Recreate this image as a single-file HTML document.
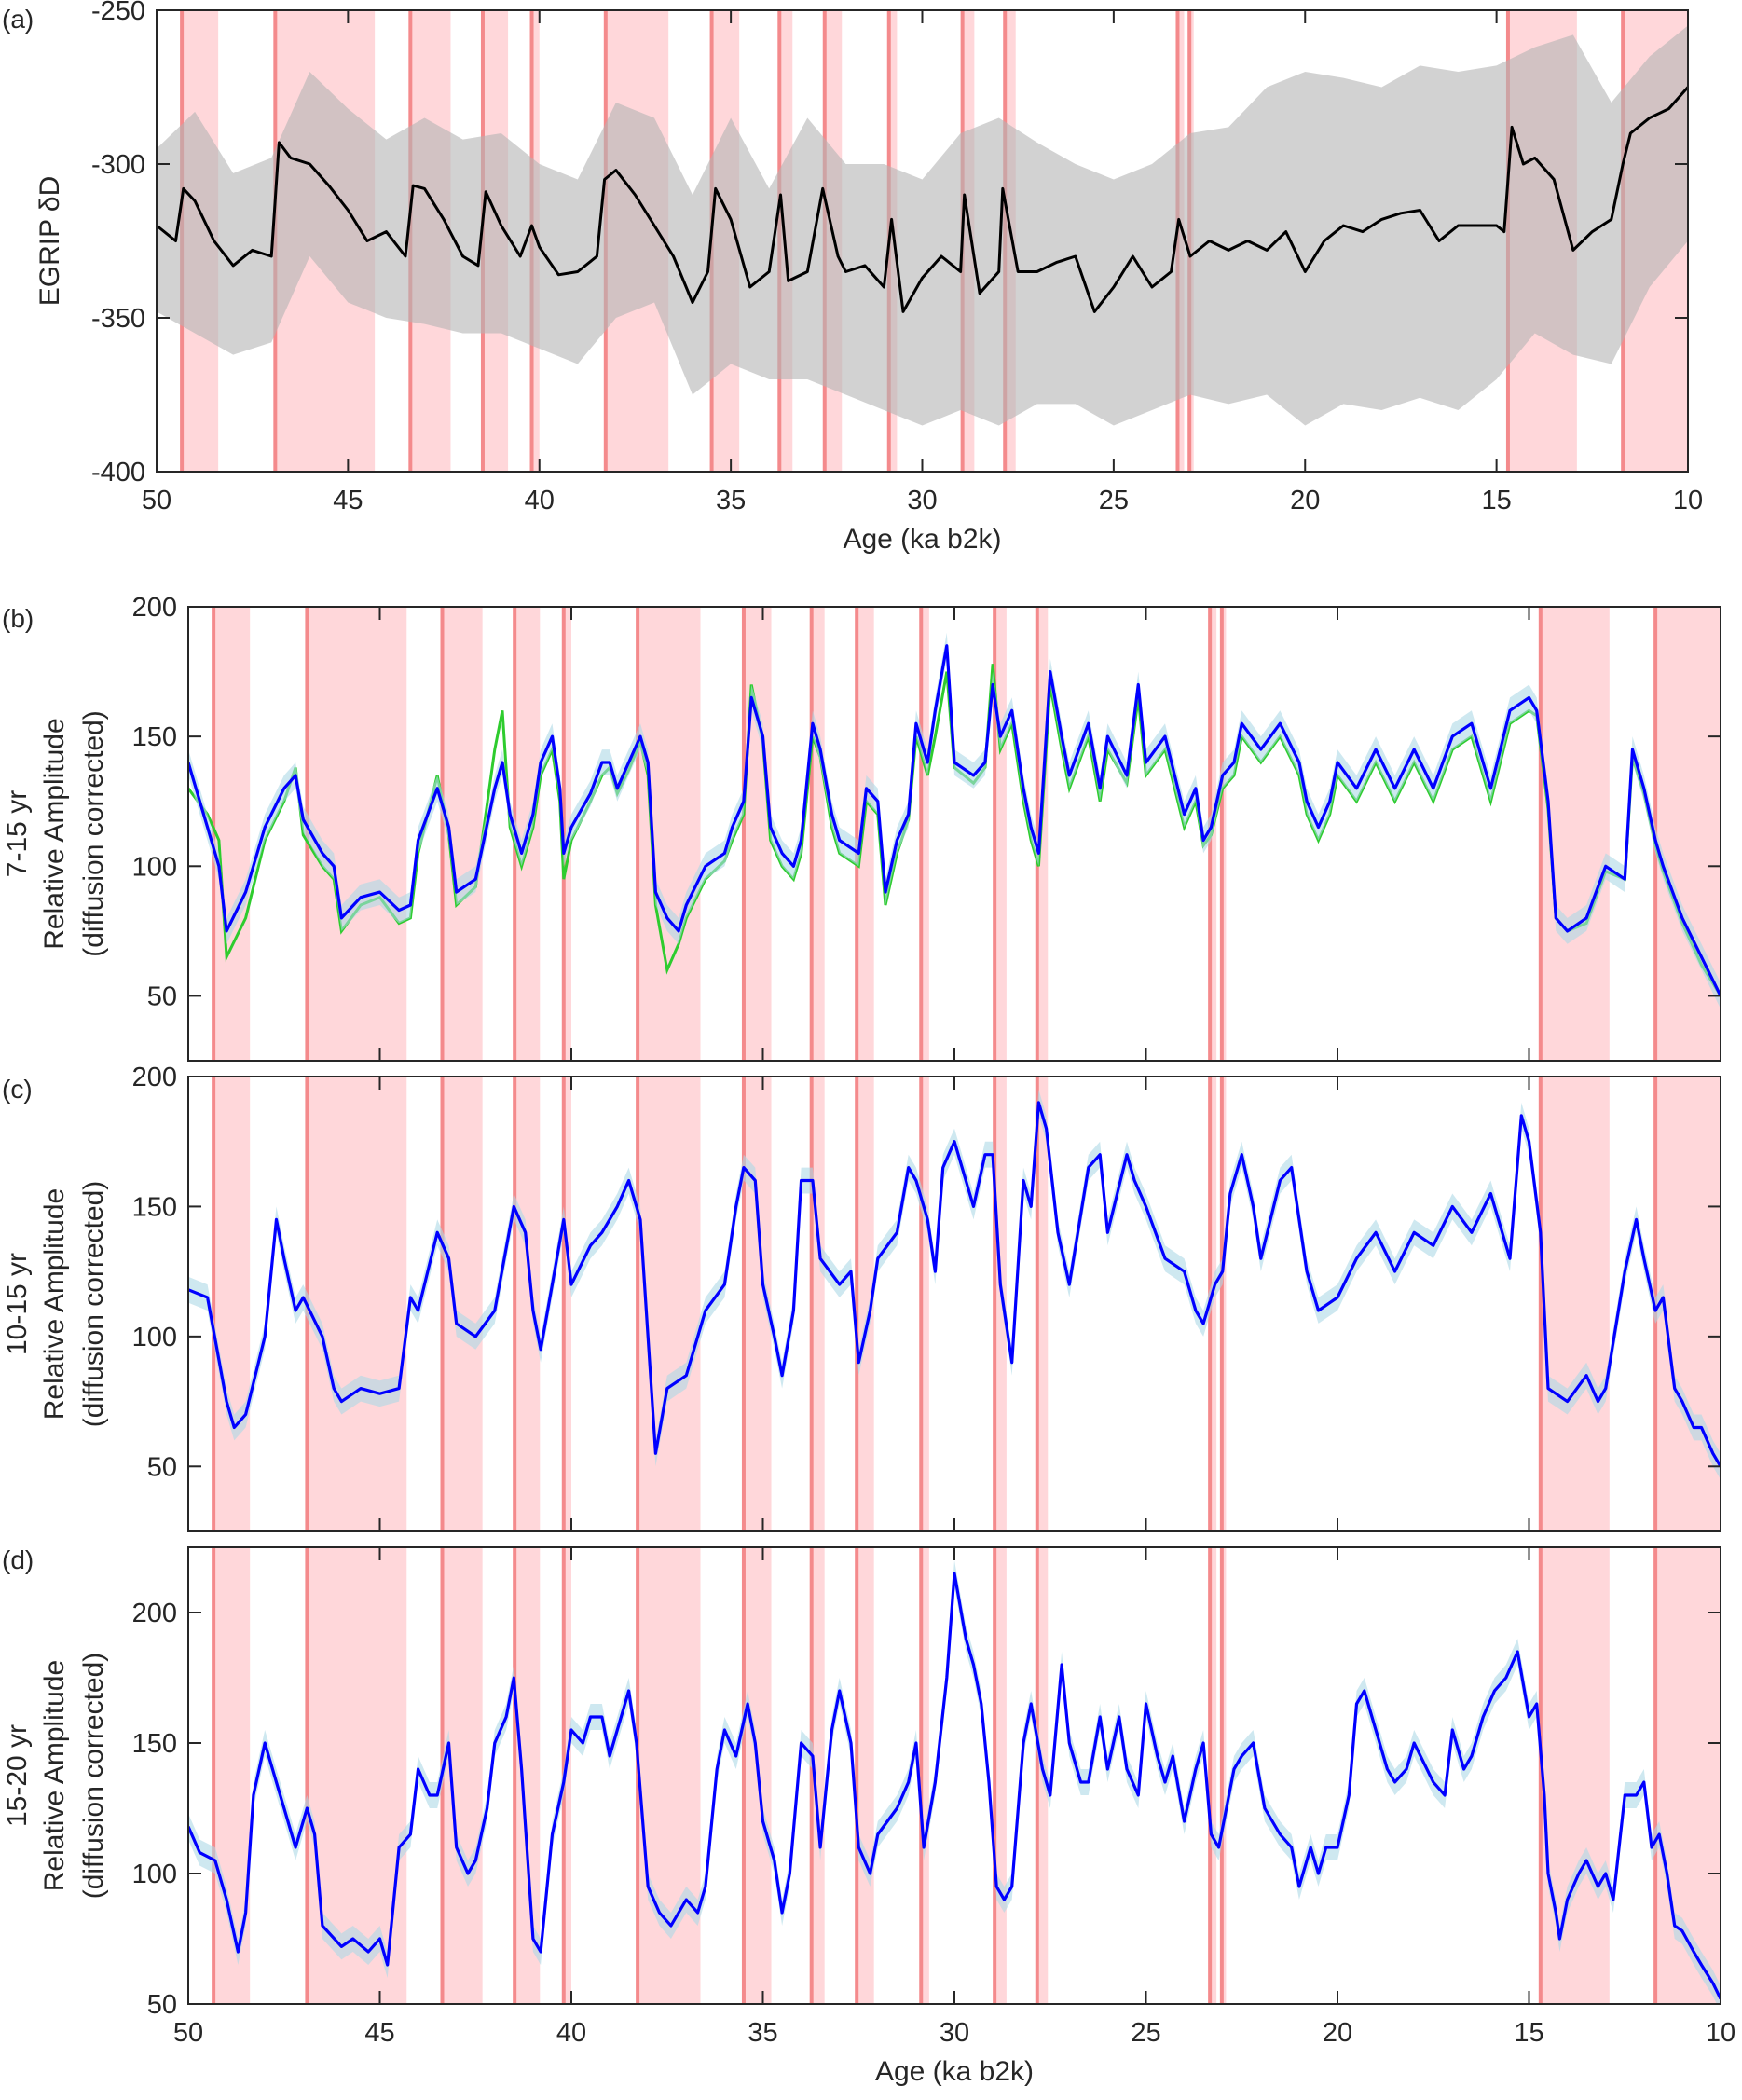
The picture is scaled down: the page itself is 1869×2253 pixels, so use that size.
<!DOCTYPE html>
<html><head><meta charset="utf-8">
<style>
html,body{margin:0;padding:0;background:#fff;}
svg{display:block;font-family:"Liberation Sans",Arial,sans-serif;}
</style></head>
<body>
<svg id="fig" width="1869" height="2253" viewBox="0 0 1869 2253" xmlns="http://www.w3.org/2000/svg"></svg>
<script>
// ---- shaded interstadial intervals (ka b2k): start, end
const bandStart = [49.34, 46.9, 43.37, 41.48, 40.2, 38.27, 35.5, 33.73, 32.55, 30.87, 28.95, 27.84, 23.33, 23.02, 14.7, 11.7];
const bandEnd   = [48.39, 44.3, 42.32, 40.82, 40.0, 36.63, 34.78, 33.39, 32.1, 30.66, 28.64, 27.56, 23.16, 22.91, 12.9, 10.0];

// ---- panel a: EGRIP dD smoothed
const ageA = [50,49.5,49.3,49,48.5,48,47.5,47.0,46.8,46.5,46,45.5,45,44.5,44,43.5,43.3,43,42.5,42,41.6,41.4,41,40.5,40.2,40,39.5,39,38.5,38.3,38,37.5,37,36.5,36,35.6,35.4,35,34.5,34,33.7,33.5,33,32.6,32.2,32,31.5,31,30.8,30.5,30,29.5,29,28.9,28.5,28,27.9,27.5,27,26.5,26,25.5,25,24.5,24,23.5,23.3,23,22.5,22,21.5,21,20.5,20,19.5,19,18.5,18,17.5,17,16.5,16,15.5,15,14.8,14.6,14.3,14,13.5,13,12.5,12,11.7,11.5,11,10.5,10];
const dD = [-320,-325,-308,-312,-325,-333,-328,-330,-293,-298,-300,-307,-315,-325,-322,-330,-307,-308,-318,-330,-333,-309,-320,-330,-320,-327,-336,-335,-330,-305,-302,-310,-320,-330,-345,-335,-308,-318,-340,-335,-310,-338,-335,-308,-330,-335,-333,-340,-318,-348,-337,-330,-335,-310,-342,-335,-308,-335,-335,-332,-330,-348,-340,-330,-340,-335,-318,-330,-325,-328,-325,-328,-322,-335,-325,-320,-322,-318,-316,-315,-325,-320,-320,-320,-322,-288,-300,-298,-305,-328,-322,-318,-300,-290,-285,-282,-275];
// raw-data envelope (1 ka grid)
const ageEnv = [50,49,48,47,46,45,44,43,42,41,40,39,38,37,36,35,34,33,32,31,30,29,28,27,26,25,24,23,22,21,20,19,18,17,16,15,14,13,12,11,10];
const envHi = [-295,-283,-303,-298,-270,-282,-292,-285,-292,-290,-300,-305,-280,-285,-310,-285,-308,-285,-300,-300,-305,-290,-285,-293,-300,-305,-300,-290,-288,-275,-270,-272,-275,-268,-270,-268,-262,-258,-280,-265,-255];
const envLo = [-348,-355,-362,-358,-330,-345,-350,-352,-355,-355,-360,-365,-350,-345,-375,-365,-370,-370,-375,-380,-385,-380,-385,-378,-378,-385,-380,-375,-378,-375,-385,-378,-380,-376,-380,-370,-355,-362,-365,-340,-325];

// ---- panel b: 7-15 yr
const ageB = [50,49.5,49.2,49,48.5,48,47.5,47.2,47,46.5,46.2,46,45.5,45,44.5,44.2,44,43.5,43.2,43,42.5,42,41.8,41.6,41.3,41,40.8,40.5,40.3,40.2,40,39.5,39.2,39,38.8,38.5,38.2,38,37.8,37.5,37.2,37,36.5,36,35.8,35.5,35.3,35,34.8,34.5,34.2,34,33.7,33.5,33.2,33,32.5,32.3,32,31.8,31.5,31.2,31,30.7,30.5,30.2,30,29.5,29.2,29,28.8,28.5,28.2,28,27.8,27.5,27.2,27,26.5,26.2,26,25.5,25.2,25,24.5,24,23.7,23.5,23.3,23,22.7,22.5,22,21.5,21,20.8,20.5,20.2,20,19.5,19,18.5,18,17.5,17,16.5,16,15.5,15,14.8,14.5,14.3,14,13.5,13,12.5,12.3,12,11.7,11.5,11,10.5,10];
const ampB = [140,115,100,75,90,115,130,135,118,105,100,80,88,90,83,85,110,130,115,90,95,130,140,120,105,120,140,150,130,105,115,128,140,140,130,140,150,140,90,80,75,85,100,105,115,125,165,150,115,105,100,110,155,145,120,110,105,130,125,90,110,120,155,140,160,185,140,135,140,170,150,160,130,115,105,175,150,135,155,130,150,135,170,140,150,120,130,110,115,135,140,155,145,155,140,125,115,125,140,130,145,130,145,130,150,155,130,160,165,160,125,80,75,80,100,95,145,130,110,100,80,65,50];
const ampBg = [130,120,110,65,80,110,125,138,112,100,95,75,85,88,78,80,105,135,112,85,92,145,160,115,100,115,135,145,125,95,110,125,135,138,128,137,148,135,85,60,70,80,95,102,110,120,170,148,110,100,95,105,150,142,115,105,100,125,120,85,105,118,150,135,150,175,138,132,138,178,145,155,125,110,100,170,145,130,150,125,145,132,165,135,145,115,125,108,112,130,135,150,140,150,135,120,110,120,135,125,140,125,140,125,145,150,125,155,160,158,122,80,75,78,98,95,142,128,108,98,78,62,50];

// ---- panel c: 10-15 yr
const ageC = [50,49.5,49,48.8,48.5,48,47.7,47.5,47.2,47,46.5,46.2,46,45.5,45,44.5,44.2,44,43.5,43.2,43,42.5,42,41.5,41.2,41,40.8,40.5,40.2,40,39.5,39.2,38.8,38.5,38.2,38,37.8,37.5,37,36.5,36,35.7,35.5,35.2,35,34.7,34.5,34.2,34,33.7,33.5,33,32.7,32.5,32.2,32,31.5,31.2,31,30.7,30.5,30.3,30,29.7,29.5,29.2,29,28.8,28.5,28.2,28,27.8,27.6,27.3,27,26.5,26.2,26,25.5,25.3,25,24.5,24,23.7,23.5,23.2,23,22.8,22.5,22.2,22,21.5,21.2,21,20.8,20.5,20,19.5,19,18.5,18,17.5,17,16.5,16,15.5,15.2,15,14.7,14.5,14,13.5,13.2,13,12.5,12.2,12,11.7,11.5,11.2,11,10.7,10.5,10.2,10];
const ampC = [118,115,75,65,70,100,145,130,110,115,100,80,75,80,78,80,115,110,140,130,105,100,110,150,140,110,95,120,145,120,135,140,150,160,145,100,55,80,85,110,120,150,165,160,120,100,85,110,160,160,130,120,125,90,110,130,140,165,160,145,125,165,175,160,150,170,170,120,90,160,150,190,180,140,120,165,170,140,170,160,150,130,125,110,105,120,125,155,170,150,130,160,165,145,125,110,115,130,140,125,140,135,150,140,155,130,185,175,140,80,75,85,75,80,125,145,130,110,115,80,75,65,65,55,50];

// ---- panel d: 15-20 yr
const ageD = [50,49.7,49.3,49,48.7,48.5,48.3,48,47.7,47.5,47.2,46.9,46.7,46.5,46,45.7,45.3,45,44.8,44.5,44.2,44,43.7,43.5,43.2,43,42.7,42.5,42.2,42,41.7,41.5,41.3,41,40.8,40.5,40.2,40,39.7,39.5,39.2,39,38.7,38.5,38.3,38,37.7,37.4,37,36.7,36.5,36.2,36,35.7,35.4,35.2,35,34.7,34.5,34.3,34,33.7,33.5,33.2,33,32.7,32.5,32.2,32,31.5,31.2,31,30.8,30.5,30.2,30,29.7,29.5,29.3,29.1,28.9,28.7,28.5,28.2,28,27.7,27.5,27.2,27,26.7,26.5,26.2,26,25.7,25.5,25.2,25,24.7,24.5,24.3,24,23.7,23.5,23.3,23.1,22.9,22.7,22.5,22.2,21.9,21.5,21.2,21,20.7,20.5,20.3,20,19.7,19.5,19.3,19,18.7,18.5,18.2,18,17.5,17.2,17,16.7,16.5,16.2,15.9,15.6,15.3,15,14.8,14.6,14.5,14.3,14.2,14,13.7,13.5,13.2,13,12.8,12.5,12.2,12,11.8,11.6,11.4,11.2,11,10.7,10.5,10.2,10];
const ampD = [118,108,105,90,70,85,130,150,135,125,110,125,115,80,72,75,70,75,65,110,115,140,130,130,150,110,100,105,125,150,160,175,140,75,70,115,135,155,150,160,160,145,160,170,150,95,85,80,90,85,95,140,155,145,165,150,120,105,85,100,150,145,110,155,170,150,110,100,115,125,135,150,110,135,175,215,190,180,165,135,95,90,95,150,165,140,130,180,150,135,135,160,140,160,140,130,165,145,135,145,120,140,150,115,110,125,140,145,150,125,115,110,95,110,100,110,110,130,165,170,155,140,135,140,150,135,130,155,140,145,160,170,175,185,160,165,130,100,85,75,90,100,105,95,100,90,130,130,135,110,115,100,80,78,70,65,58,52];

const NS = "http://www.w3.org/2000/svg";
const svg = document.getElementById('fig');
function mk(tag, attrs, parent){
  const e = document.createElementNS(NS, tag);
  for (const k in attrs) e.setAttribute(k, attrs[k]);
  (parent||svg).appendChild(e);
  return e;
}

function panel(cfg){
  const g = mk('g', {});
  
  
  const X = a => cfg.x0 + (50 - a) / 40 * (cfg.x1 - cfg.x0);
  const Y = v => cfg.y1 - (v - cfg.vmin) / (cfg.vmax - cfg.vmin) * (cfg.y1 - cfg.y0);
  const clipId = 'clip' + cfg.name;
  const cp = mk('clipPath', {id: clipId}, g);
  mk('rect', {x: cfg.x0, y: cfg.y0, width: cfg.x1 - cfg.x0, height: cfg.y1 - cfg.y0}, cp);
  const inner = mk('g', {'clip-path': 'url(#' + clipId + ')'}, g);
  // bands
  for (let i = 0; i < bandStart.length; i++) {
    const r = mk('rect', {x: X(bandStart[i]), y: cfg.y0, width: X(bandEnd[i]) - X(bandStart[i]), height: cfg.y1 - cfg.y0, fill: '#ffd7da'}, inner);
    
    
    const l = mk('line', {x1: X(bandStart[i]), x2: X(bandStart[i]), y1: cfg.y0, y2: cfg.y1, stroke: '#f48a8c', 'stroke-width': 4}, inner);
    
    
  }
  cfg.draw(inner, X, Y);
  // axes box
  const box = mk('rect', {x: cfg.x0, y: cfg.y0, width: cfg.x1 - cfg.x0, height: cfg.y1 - cfg.y0, fill: 'none', stroke: '#262626', 'stroke-width': 2}, g);
  
  
  // x ticks
  const xt = [50,45,40,35,30,25,20,15,10];
  xt.forEach(t => {
    mk('line', {x1: X(t), x2: X(t), y1: cfg.y1, y2: cfg.y1 - 14, stroke: '#262626', 'stroke-width': 2}, g);
    mk('line', {x1: X(t), x2: X(t), y1: cfg.y0, y2: cfg.y0 + 14, stroke: '#262626', 'stroke-width': 2}, g);
    if (cfg.xlabels) {
      const tx = mk('text', {x: X(t), y: cfg.y1 + 40, 'text-anchor': 'middle', 'font-size': 29, fill: '#262626'}, g);
      tx.textContent = t;
      
      
    }
  });
  cfg.yticks.forEach(t => {
    mk('line', {x1: cfg.x0, x2: cfg.x0 + 14, y1: Y(t), y2: Y(t), stroke: '#262626', 'stroke-width': 2}, g);
    mk('line', {x1: cfg.x1, x2: cfg.x1 - 14, y1: Y(t), y2: Y(t), stroke: '#262626', 'stroke-width': 2}, g);
    const tx = mk('text', {x: cfg.x0 - 12, y: Y(t) + 10, 'text-anchor': 'end', 'font-size': 29, fill: '#262626'}, g);
    tx.textContent = t;
    
    
  });
  const pl = mk('text', {x: 2, y: cfg.labY, 'font-size': 28, fill: '#262626'}, g);
  pl.textContent = cfg.label;
  
  
  cfg.ylab.forEach((s, i) => {
    const cx = cfg.ylabX[i], cy = (cfg.y0 + cfg.y1) / 2;
    const tx = mk('text', {x: cx, y: cy, 'text-anchor': 'middle', 'font-size': 30, fill: '#262626', transform: 'rotate(-90 ' + cx + ' ' + cy + ')'}, g);
    tx.textContent = s;
    
    
  });
  if (cfg.xtitle) {
    const tx = mk('text', {x: (cfg.x0 + cfg.x1) / 2, y: cfg.y1 + 82, 'text-anchor': 'middle', 'font-size': 30, fill: '#262626'}, g);
    tx.textContent = 'Age (ka b2k)';
    
    
  }
}

function pathOf(ages, vals, X, Y){
  return ages.map((a, i) => (i ? 'L' : 'M') + X(a).toFixed(1) + ' ' + Y(vals[i]).toFixed(1)).join(' ');
}
function blueWithBand(g, ages, vals, X, Y){
  const up = ages.map((a, i) => X(a).toFixed(1) + ',' + Y(vals[i] + 5).toFixed(1));
  const lo = ages.map((a, i) => X(a).toFixed(1) + ',' + Y(vals[i] - 5).toFixed(1)).reverse();
  const band = mk('polygon', {points: up.concat(lo).join(' '), fill: '#add8e6', opacity: 0.6}, g);
  
  
  const p = mk('path', {d: pathOf(ages, vals, X, Y), fill: 'none', stroke: '#0000ff', 'stroke-width': 3.2, 'stroke-linejoin': 'round'}, g);
  
  
}

panel({name: 'panel-a', x0: 168, x1: 1811, y0: 11, y1: 506, vmin: -400, vmax: -250,
  yticks: [-250, -300, -350, -400], xlabels: true, xtitle: true, label: '(a)', labY: 30,
  ylab: ['EGRIP δD'], ylabX: [63],
  draw: (g, X, Y) => {
    const up = ageEnv.map((a, i) => X(a).toFixed(1) + ',' + Y(envHi[i]).toFixed(1));
    const lo = ageEnv.map((a, i) => X(a).toFixed(1) + ',' + Y(envLo[i]).toFixed(1)).reverse();
    const env = mk('polygon', {points: up.concat(lo).join(' '), fill: '#b4b4b4', opacity: 0.6}, g);
    
    
    const p = mk('path', {d: pathOf(ageA, dD, X, Y), fill: 'none', stroke: '#000', 'stroke-width': 3, 'stroke-linejoin': 'round'}, g);
    
    
  }});

panel({name: 'panel-b', x0: 202, x1: 1846, y0: 651, y1: 1138, vmin: 25, vmax: 200,
  yticks: [200, 150, 100, 50], xlabels: false, xtitle: false, label: '(b)', labY: 673,
  ylab: ['7-15 yr', 'Relative Amplitude', '(diffusion corrected)'], ylabX: [28, 68, 110],
  draw: (g, X, Y) => {
    const pg = mk('path', {d: pathOf(ageB, ampBg, X, Y), fill: 'none', stroke: '#2ecc2e', 'stroke-width': 3}, g);
    
    
    blueWithBand(g, ageB, ampB, X, Y);
  }});

panel({name: 'panel-c', x0: 202, x1: 1846, y0: 1155, y1: 1643, vmin: 25, vmax: 200,
  yticks: [200, 150, 100, 50], xlabels: false, xtitle: false, label: '(c)', labY: 1178,
  ylab: ['10-15 yr', 'Relative Amplitude', '(diffusion corrected)'], ylabX: [28, 68, 110],
  draw: (g, X, Y) => blueWithBand(g, ageC, ampC, X, Y)});

panel({name: 'panel-d', x0: 202, x1: 1846, y0: 1660, y1: 2150, vmin: 50, vmax: 225,
  yticks: [200, 150, 100, 50], xlabels: true, xtitle: true, label: '(d)', labY: 1683,
  ylab: ['15-20 yr', 'Relative Amplitude', '(diffusion corrected)'], ylabX: [28, 68, 110],
  draw: (g, X, Y) => blueWithBand(g, ageD, ampD, X, Y)});
</script>
</body></html>
